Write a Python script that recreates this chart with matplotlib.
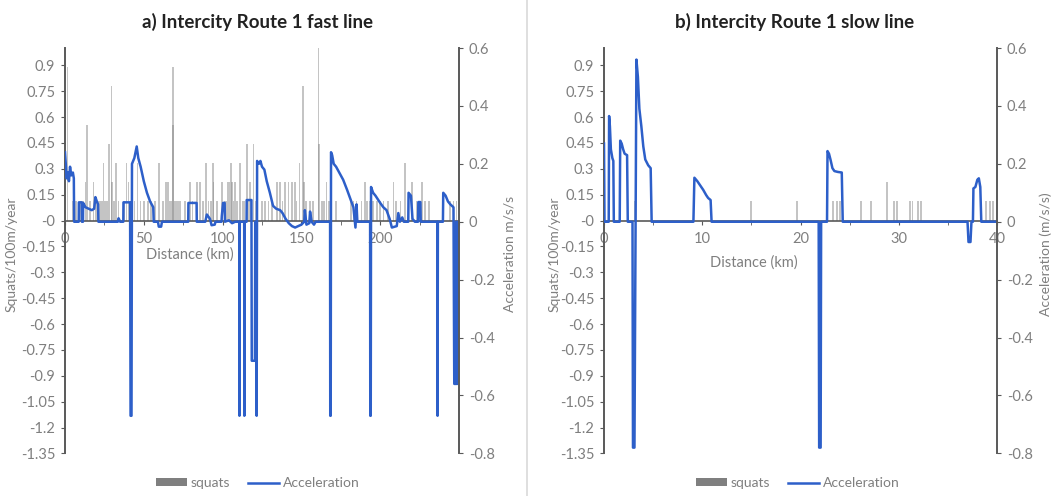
import matplotlib
matplotlib.use("Agg")
import matplotlib.pyplot as plt
from matplotlib.lines import Line2D
from matplotlib.patches import Patch
from matplotlib.ticker import MultipleLocator, FixedLocator, FuncFormatter

plt.rcParams['font.family'] = ['Lato', 'DejaVu Sans']
plt.rcParams['axes.unicode_minus'] = False

# ---- a) fast line: acceleration trace (km, m/s/s)
fast_km = [0.0, 0.5, 1.0, 1.8, 2.5, 3.2, 4.0, 5.0, 5.6, 5.8, 8.7, 8.8, 10.6, 10.7, 11.4, 11.5,
           13.0, 15.0, 17.0, 18.5, 19.3, 20.2, 21.0, 21.2, 33.5, 34.0, 35.0, 37.0, 37.1, 41.3,
           41.6, 42.2, 42.5, 44.0, 45.5, 46.5, 48.0, 50.0, 52.0, 54.0, 55.0, 56.0, 56.3, 59.0,
           59.5, 61.0, 61.5, 78.2, 78.3, 83.5, 83.6, 89.0, 90.0, 92.0, 93.0, 95.0, 95.5, 99.3,
           99.5, 100.3, 101.3, 101.5, 104.0, 106.0, 108.0, 110.6, 110.7, 110.9, 113.7, 113.8,
           114.0, 115.2, 115.3, 118.3, 118.5, 120.5, 120.7, 121.6, 121.9, 123.0, 124.0, 125.0,
           126.5, 128.0, 130.0, 132.0, 134.0, 136.5, 138.0, 140.0, 142.0, 144.0, 146.0, 148.0,
           150.0, 151.8, 152.2, 153.2, 155.0, 155.5, 156.5, 158.0, 159.0, 168.2, 168.3, 168.6,
           168.8, 169.5, 170.5, 172.0, 174.0, 176.5, 179.0, 181.0, 183.0, 184.3, 185.0, 185.5,
           193.6, 193.7, 194.0, 194.2, 195.5, 197.0, 200.0, 202.0, 204.0, 206.0, 207.4, 210.5,
           211.5, 212.5, 214.0, 215.0, 217.8, 218.0, 219.5, 220.5, 222.0, 224.0, 224.2, 225.5,
           225.7, 236.3, 236.4, 236.6, 239.8, 240.0, 241.5, 243.0, 244.5, 246.5, 247.0, 248.0,
           248.2, 248.4, 249.0, 249.2, 250.0]
fast_acc = [0.24, 0.20, 0.15, 0.17, 0.14, 0.19, 0.16, 0.17, 0.15, 0.0, 0.0, 0.067, 0.067, 0.0, 0.0, 0.065,
            0.05, 0.045, 0.04, 0.045, 0.085, 0.07, 0.06, 0.0, 0.0, 0.012, 0.0, 0.0, 0.067, 0.067,
            -0.67, -0.67, 0.2, 0.22, 0.26, 0.22, 0.19, 0.14, 0.10, 0.07, 0.06, 0.05, 0.0, 0.0,
            -0.017, -0.017, 0.0, 0.0, 0.065, 0.065, 0.0, 0.0, 0.025, 0.01, -0.012, -0.01, 0.0, 0.0,
            0.02, 0.065, 0.065, 0.0, 0.005, -0.005, 0.0, 0.0, -0.67, 0.0, 0.0, -0.67,
            0.0, 0.0, 0.075, 0.075, -0.48, -0.48, 0.0, -0.67, 0.21, 0.2, 0.21, 0.19,
            0.18, 0.14, 0.10, 0.055, 0.045, 0.04, 0.03, 0.01, -0.005, -0.015, -0.02, -0.015,
            -0.01, 0.0, 0.04, -0.01, -0.005, 0.035, 0.0, -0.01, 0.0, 0.0, -0.67, -0.67,
            0.24, 0.23, 0.20, 0.19, 0.17, 0.145, 0.11, 0.08, 0.05, -0.02, 0.06, 0.0,
            0.0, -0.67, -0.67, 0.12, 0.10, 0.09, 0.065, 0.05, 0.04, 0.01, -0.02, -0.015,
            0.03, 0.0, 0.015, 0.0, 0.0, 0.1, 0.09, 0.01, 0.0, 0.0, 0.068, 0.068,
            0.0, 0.0, -0.67, 0.0, 0.0, 0.1, 0.09, 0.07, 0.06, 0.05, -0.56, -0.56,
            0.0, -0.56, -0.56, 0.0, 0.0]

# ---- a) fast line: squats per 100 m per year
fast_sq_km = [1.5, 5.0, 7.0, 10.0, 11.5, 13.0, 14.0, 16.0, 18.0, 19.5, 20.5, 21.5, 22.5, 23.3, 24.3,
              25.5, 26.5, 28.1, 29.6, 29.8, 31.0, 32.2, 34.0, 37.5, 39.0, 40.3, 41.5, 44.0, 46.0,
              48.0, 50.0, 52.5, 54.5, 57.0, 59.5, 62.0, 64.0, 65.4, 66.5, 67.5, 68.4, 68.6, 69.8,
              70.8, 71.8, 72.8, 76.0, 79.4, 81.0, 83.6, 85.7, 87.5, 89.5, 91.0, 92.5, 93.8, 94.2,
              96.5, 99.5, 101.5, 102.5, 103.5, 104.5, 105.2, 106.0, 107.0, 108.0, 109.0, 111.0,
              112.5, 113.5, 115.3, 116.5, 117.5, 119.6, 121.0, 125.0, 127.0, 129.0, 131.5, 134.4,
              136.5, 138.0, 139.7, 141.8, 144.0, 146.0, 147.0, 148.8, 150.9, 151.5, 153.0, 155.6,
              157.5, 160.8, 161.0, 162.9, 164.5, 166.0, 167.5, 172.0, 181.5, 183.0, 185.0, 188.0,
              190.3, 191.5, 193.5, 195.5, 198.0, 200.0, 202.0, 205.0, 208.5, 210.0, 213.0, 215.9,
              218.0, 220.0, 223.0, 226.5, 228.5, 231.0, 244.4, 246.5, 248.5]
fast_sq = [0.889, 0.111, 0.111, 0.111, 0.111, 0.222, 0.556, 0.111, 0.222, 0.111, 0.111, 0.111, 0.111, 0.111, 0.333,
           0.111, 0.111, 0.444, 0.778, 0.222, 0.111, 0.333, 0.111, 0.111, 0.333, 0.222, 0.111, 0.111, 0.333,
           0.111, 0.111, 0.111, 0.111, 0.111, 0.333, 0.111, 0.222, 0.222, 0.111, 0.111, 0.889, 0.556, 0.111,
           0.111, 0.111, 0.111, 0.111, 0.222, 0.111, 0.222, 0.222, 0.111, 0.333, 0.111, 0.111, 0.333, 0.222,
           0.111, 0.222, 0.111, 0.111, 0.222, 0.222, 0.333, 0.222, 0.111, 0.222, 0.111, 0.333,
           0.111, 0.111, 0.444, 0.111, 0.222, 0.444, 0.111, 0.111, 0.111, 0.111, 0.111, 0.222,
           0.222, 0.111, 0.222, 0.222, 0.222, 0.222, 0.111, 0.333, 0.778, 0.222, 0.111, 0.111,
           0.111, 1.0, 0.444, 0.111, 0.111, 0.222, 0.111, 0.111, 0.111, 0.111, 0.111, 0.111,
           0.222, 0.111, 0.111, 0.111, 0.111, 0.111, 0.111, 0.111, 0.222, 0.111, 0.111, 0.333,
           0.111, 0.222, 0.111, 0.222, 0.111, 0.111, 0.111, 0.111, 0.111]

# ---- b) slow line: acceleration trace
slow_km = [0.0, 0.05, 0.48, 0.52, 0.6, 0.7, 0.85, 0.95, 1.0, 1.6, 1.65, 1.8, 1.95, 2.1, 2.35, 2.42,
           2.9, 2.95, 3.1, 3.3, 3.45, 3.6, 3.8, 4.0, 4.2, 4.5, 4.75, 4.85, 9.1, 9.2, 9.5, 9.8,
           10.1, 10.4, 10.6, 10.85, 10.95, 21.85, 21.9, 22.05, 22.1, 22.7, 22.75, 22.9, 23.05,
           23.25, 23.45, 23.8, 24.2, 24.3, 37.0, 37.1, 37.3, 37.4, 37.55, 37.6, 37.8, 38.0,
           38.15, 38.3, 38.4, 40.0]
slow_acc = [0.27, 0.0, 0.0, 0.365, 0.33, 0.25, 0.22, 0.21, 0.0, 0.0, 0.28, 0.27, 0.25, 0.235, 0.23, 0.0,
            0.0, -0.78, -0.78, 0.56, 0.5, 0.39, 0.33, 0.26, 0.215, 0.195, 0.185, 0.0, 0.0, 0.152, 0.14, 0.125,
            0.11, 0.092, 0.082, 0.075, 0.0, 0.0, -0.78, -0.78, 0.0, 0.0, 0.244, 0.235, 0.215,
            0.185, 0.175, 0.172, 0.17, 0.0, 0.0, -0.07, -0.07, 0.0, 0.0, 0.115, 0.12, 0.145,
            0.15, 0.12, 0.0, 0.0]

# ---- b) slow line: squats
slow_sq_km = [3.2, 15.0, 19.6, 23.3, 23.7, 24.0, 26.2, 27.2, 28.8, 29.5, 29.8, 31.1, 31.4, 32.0,
              32.3, 38.9, 39.25, 39.6]
slow_sq = [0.111, 0.111, 0.111, 0.111, 0.111, 0.111, 0.111, 0.111, 0.222, 0.111, 0.111, 0.111, 0.111, 0.111,
           0.111, 0.111, 0.111, 0.111]

BLUE = '#2D5FC9'
GREY = '#7f7f7f'
SPINE = '#595959'

fig = plt.figure(figsize=(10.54, 4.96), dpi=100)


def panel(rect, km, acc, sq_km, sq, xmax, xmajor, xminor, bar_w, hide_last):
    ax = fig.add_axes(rect)
    ax.bar(sq_km, sq, width=bar_w, color='#8a8a8a', alpha=0.5, linewidth=0)
    ax.set_xlim(0, xmax)
    ax.set_ylim(-1.35, 1.0)
    ax.yaxis.set_major_locator(FixedLocator([round(-1.35 + 0.15 * i, 2) for i in range(16)]))
    ax.yaxis.set_major_formatter(FuncFormatter(lambda v, p: '%g' % round(v, 2)))
    ax.xaxis.set_major_locator(MultipleLocator(xmajor))
    ax.xaxis.set_minor_locator(MultipleLocator(xminor))
    ax.xaxis.set_major_formatter(FuncFormatter(
        lambda v, p: '' if hide_last and v >= xmax - 1e-6 else '%g' % v))
    for s in ['top', 'right']:
        ax.spines[s].set_visible(False)
    ax.spines['bottom'].set_position(('data', 0))
    ax.spines['bottom'].set_color(SPINE)
    ax.spines['bottom'].set_linewidth(1.2)
    ax.spines['left'].set_color(SPINE)
    ax.spines['left'].set_linewidth(1.4)
    ax.tick_params(axis='y', direction='out', length=3, color=SPINE, labelcolor=GREY,
                   labelsize=10.5, pad=4)
    ax.tick_params(axis='x', which='both', direction='out', length=3, color=SPINE,
                   labelcolor=GREY, labelsize=10.5, pad=5)
    ax.set_zorder(1)

    ax2 = ax.twinx()
    ax2.plot(km, acc, color=BLUE, lw=1.8)
    ax2.set_ylim(-0.8, 0.6)
    ax2.yaxis.set_major_locator(MultipleLocator(0.2))
    ax2.yaxis.set_major_formatter(FuncFormatter(lambda v, p: '%g' % round(v, 2)))
    for s in ['top', 'left', 'bottom']:
        ax2.spines[s].set_visible(False)
    ax2.spines['right'].set_color(SPINE)
    ax2.spines['right'].set_linewidth(1.4)
    ax2.tick_params(axis='y', direction='out', length=3, color=SPINE, labelcolor=GREY,
                    labelsize=10.5, pad=4)
    ax2.set_zorder(2)
    return ax, ax2


panel([65 / 1054, 1 - 453.4 / 496, 394 / 1054, 405.4 / 496], fast_km, fast_acc,
      fast_sq_km, fast_sq, 250, 50, 25, 1.0, True)
panel([604 / 1054, 1 - 453.4 / 496, 393 / 1054, 405.4 / 496], slow_km, slow_acc,
      slow_sq_km, slow_sq, 40, 10, 5, 0.2, False)


def px(x, y):
    return x / 1054, 1 - y / 496


fig.text(*px(257, 22), 'a) Intercity Route 1 fast line', ha='center', va='center',
         fontsize=13.5, fontweight='bold', color='#222222')
fig.text(*px(795, 22), 'b) Intercity Route 1 slow line', ha='center', va='center',
         fontsize=13.5, fontweight='bold', color='#222222')

fig.text(*px(190, 255), 'Distance (km)', ha='center', va='center', fontsize=10.5, color=GREY)
fig.text(*px(754, 263), 'Distance (km)', ha='center', va='center', fontsize=10.5, color=GREY)

fig.text(*px(12, 254), 'Squats/100m/year', ha='center', va='center', rotation=90,
         fontsize=10, color=GREY)
fig.text(*px(509, 254), 'Acceleration m/s/s', ha='center', va='center', rotation=90,
         fontsize=10, color=GREY)
fig.text(*px(555, 254), 'Squats/100m/year', ha='center', va='center', rotation=90,
         fontsize=10, color=GREY)
fig.text(*px(1046, 254), 'Acceleration (m/s/s)', ha='center', va='center', rotation=90,
         fontsize=10, color=GREY)

handles = [Patch(facecolor=GREY, edgecolor='none'), Line2D([], [], color=BLUE, lw=1.8)]
labels = ['squats', 'Acceleration']
for cx in [258, 798]:
    fig.legend(handles, labels, loc='center', bbox_to_anchor=px(cx, 483), ncol=2,
               frameon=False, fontsize=10, labelcolor=GREY, handlelength=2.2,
               handleheight=0.45, handletextpad=0.3, columnspacing=1.3)

fig.add_artist(Line2D([527 / 1054, 527 / 1054], [0, 1], color='#d9d9d9', lw=1.2))

fig.savefig('out.png', dpi=100)
